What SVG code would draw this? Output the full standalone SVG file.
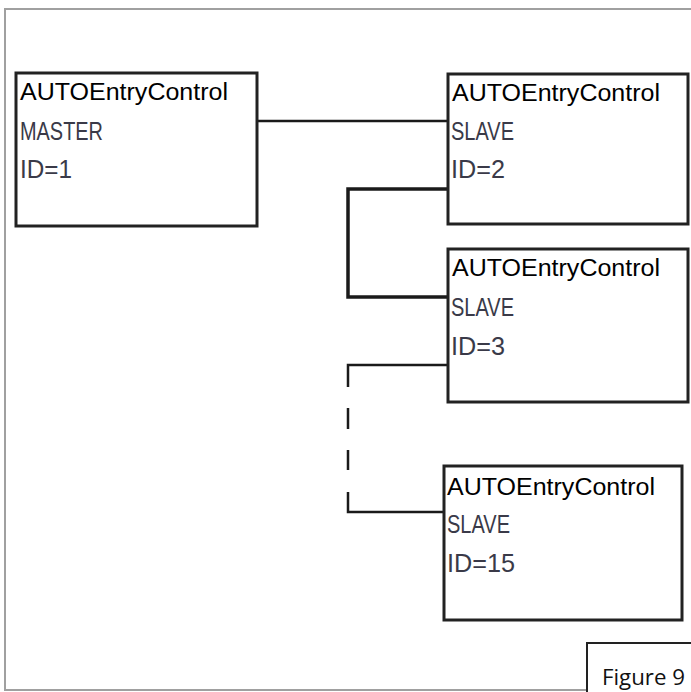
<svg xmlns="http://www.w3.org/2000/svg" width="691" height="692" viewBox="0 0 691 692">
<style>
.box{fill:#fff;stroke:#222;stroke-width:3}
.title{font-family:"Liberation Sans",Arial,sans-serif;font-size:23px;fill:#000}
.sub{font-family:"Liberation Sans",Arial,sans-serif;font-size:25px;fill:#3a3a48}
.wire{fill:none;stroke:#1a1a1a;stroke-width:2.5}
</style>
<rect x="5" y="9" width="690" height="681" fill="#fff" stroke="#a0a0a0" stroke-width="2"/>
<g id="connectors">
<path class="wire" d="M257 121 H448"/>
<path class="wire" style="stroke-width:3.5" d="M448 189 H348 V297 H448"/>
<path class="wire" d="M448 365 H348 V387"/>
<path class="wire" d="M348 408 V429 M348 450 V470"/>
<path class="wire" d="M348 492 V512 H444"/>
</g>
<g id="node-master">
<rect class="box" x="16" y="73" width="241" height="153"/>
<text class="title" x="20" y="100" textLength="208" lengthAdjust="spacingAndGlyphs">AUTOEntryControl</text>
<text class="sub" x="20" y="140" textLength="83" lengthAdjust="spacingAndGlyphs">MASTER</text>
<text class="sub" x="20" y="178" textLength="52" lengthAdjust="spacingAndGlyphs">ID=1</text>
</g>
<g id="node-slave2">
<rect class="box" x="448" y="74" width="240" height="150"/>
<text class="title" x="452" y="101" textLength="208" lengthAdjust="spacingAndGlyphs">AUTOEntryControl</text>
<text class="sub" x="451" y="140" textLength="63" lengthAdjust="spacingAndGlyphs">SLAVE</text>
<text class="sub" x="451" y="178" textLength="54" lengthAdjust="spacingAndGlyphs">ID=2</text>
</g>
<g id="node-slave3">
<rect class="box" x="448" y="249" width="240" height="153"/>
<text class="title" x="452" y="276" textLength="208" lengthAdjust="spacingAndGlyphs">AUTOEntryControl</text>
<text class="sub" x="451" y="316" textLength="63" lengthAdjust="spacingAndGlyphs">SLAVE</text>
<text class="sub" x="451" y="355" textLength="54" lengthAdjust="spacingAndGlyphs">ID=3</text>
</g>
<g id="node-slave15">
<rect class="box" x="444" y="466" width="238" height="154"/>
<text class="title" x="447" y="495" textLength="208" lengthAdjust="spacingAndGlyphs">AUTOEntryControl</text>
<text class="sub" x="447" y="533" textLength="63" lengthAdjust="spacingAndGlyphs">SLAVE</text>
<text class="sub" x="447" y="572" textLength="68" lengthAdjust="spacingAndGlyphs">ID=15</text>
</g>
<g id="figure-label">
<rect x="587" y="643" width="110" height="60" fill="#fff" stroke="#222" stroke-width="2"/>
<text x="602" y="685" font-family="'Open Sans','Liberation Sans',sans-serif" font-size="22" fill="#111" textLength="83" lengthAdjust="spacingAndGlyphs">Figure 9</text>
</g>
</svg>
